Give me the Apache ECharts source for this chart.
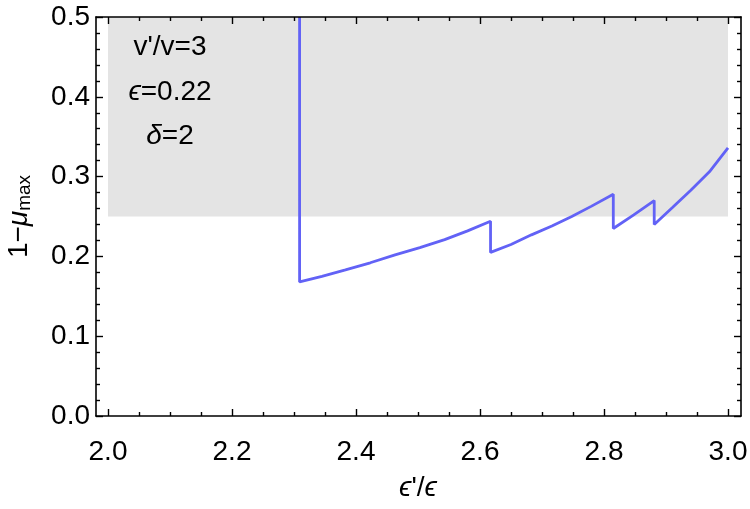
<!DOCTYPE html>
<html>
<head>
	<meta charset="utf-8">
	<title>1-mu max</title>
</head>
<body style="margin:0">
	<div id="box" style="width: 750px;height: 509px"></div>
</body>
<script type="text/javascript" src="https://cdn.jsdelivr.net/npm/echarts@6/dist/echarts.min.js"></script>
<script type="text/javascript">
	// curve (x = eps'/eps, y = 1 - mu_max)
	var curveX = [2.309, 2.309, 2.345, 2.383, 2.423, 2.463, 2.503, 2.543, 2.580, 2.617,
	              2.617, 2.650, 2.683, 2.716, 2.748, 2.780, 2.815,
	              2.815, 2.848, 2.881,
	              2.881, 2.910, 2.940, 2.970, 3.000];
	var curveY = [0.500, 0.168, 0.175, 0.183, 0.192, 0.202, 0.211, 0.221, 0.232, 0.244,
	              0.205, 0.215, 0.227, 0.238, 0.250, 0.263, 0.278,
	              0.235, 0.252, 0.270,
	              0.240, 0.261, 0.283, 0.306, 0.336];
	// gray band: x from/to, y from/to
	var bandX = [2.0, 3.0];
	var bandY = [0.25, 0.5];

	var xLabels = ['2.0', '2.2', '2.4', '2.6', '2.8', '3.0'];
	var yLabels = ['0.0', '0.1', '0.2', '0.3', '0.4', '0.5'];

	var notes = ["v'/v=3", '{i|ϵ}=0.22', '{i|δ}=2'];

	var pts = curveX.map(function (x, i) { return [x, curveY[i]]; });

	var font = '"Liberation Sans", Arial, sans-serif';
	var fs = 28;
	var black = {color: '#000', width: 1.6};
	var tickStyle = {color: '#000', width: 1.4};

	// grid 0: data area 2.0..3.0, carries x ticks
	// grid 1: a bit wider, carries the frame and the y ticks
	function xTickAx(pos, labels) {
		return {
			type: 'value', gridIndex: 0, position: pos, min: 2, max: 3, interval: 0.2, z: 5,
			axisLine: {show: false, onZero: false},
			axisTick: {show: true, inside: true, length: 7, lineStyle: tickStyle},
			minorTick: {show: true, splitNumber: 4, length: 4, lineStyle: tickStyle},
			axisLabel: labels ? {show: true, margin: 22, color: '#000', fontSize: fs, fontFamily: font,
			           formatter: function (v) { return labels[Math.round((v - 2) / 0.2)]; }}
			           : {show: false},
			splitLine: {show: false}
		};
	}
	function xFrameAx(pos) {
		return {
			type: 'value', gridIndex: 1, position: pos, min: 0, max: 1, z: 5,
			axisLine: {show: true, onZero: false, lineStyle: black},
			axisTick: {show: false}, axisLabel: {show: false}, splitLine: {show: false}
		};
	}
	function yAx(grid, pos, labels) {
		return {
			type: 'value', gridIndex: grid, position: pos, min: 0, max: 0.5, interval: 0.1, z: 5,
			axisLine: {show: grid === 1, onZero: false, lineStyle: black},
			axisTick: {show: grid === 1, inside: true, length: 7, lineStyle: tickStyle},
			minorTick: {show: grid === 1, splitNumber: 5, length: 4, lineStyle: tickStyle},
			axisLabel: labels ? {show: true, margin: 6, color: '#000', fontSize: fs, fontFamily: font,
			           formatter: function (v) { return labels[Math.round(v / 0.1)]; }}
			           : {show: false},
			splitLine: {show: false}
		};
	}

	var xAxes = [xTickAx('bottom', xLabels), xTickAx('top'), xFrameAx('bottom'), xFrameAx('top')];
	var yAxes = [yAx(0, 'left'), yAx(1, 'left', yLabels), yAx(1, 'right')];

	xAxes[0].name = '{i|ϵ}\'/{i|ϵ}';
	xAxes[0].nameLocation = 'middle';
	xAxes[0].nameGap = 58;
	xAxes[0].nameTextStyle = {color: '#000', fontSize: fs, fontFamily: font,
		rich: {i: {fontSize: fs, fontStyle: 'italic', fontFamily: font, color: '#000'}}};

	yAxes[1].name = '1−{i|μ}{s|max}';
	yAxes[1].nameLocation = 'middle';
	yAxes[1].nameRotate = 90;
	yAxes[1].nameGap = 62;
	yAxes[1].nameTextStyle = {color: '#000', fontSize: fs, fontFamily: font,
		rich: {
			i: {fontSize: fs, fontStyle: 'italic', fontFamily: font, color: '#000'},
			s: {fontSize: 19, fontFamily: font, color: '#000', verticalAlign: 'bottom', padding: [11, 0, 0, 0]}
		}};

	var dom = document.getElementById('box');
	var myChart = echarts.init(dom);
	myChart.setOption({
		animation: false,
		backgroundColor: '#fff',
		grid: [
			{left: 108, right: 22, top: 17, bottom: 93, containLabel: false, outerBoundsMode: 'none'},
			{left: 96, right: 9, top: 17, bottom: 93, containLabel: false, outerBoundsMode: 'none'}
		],
		xAxis: xAxes,
		yAxis: yAxes,
		series: [
			{
				// shaded region
				type: 'line', data: [], silent: true, z: 1, xAxisIndex: 0, yAxisIndex: 0,
				markArea: {
					silent: true,
					itemStyle: {color: '#e4e4e4'},
					data: [[{coord: [bandX[0], bandY[0]]}, {coord: [bandX[1], bandY[1]]}]]
				}
			},
			{
				type: 'line', data: pts, z: 3, showSymbol: false, clip: true,
				xAxisIndex: 0, yAxisIndex: 0,
				lineStyle: {color: '#6262f6', width: 2.8},
				itemStyle: {color: '#6262f6'}
			}
		],
		graphic: notes.map(function (t, i) {
			return {
				type: 'text', x: 170, y: [47, 92, 136][i], z: 10,
				style: {
					text: t, fill: '#000', fontSize: fs, fontFamily: font,
					align: 'center', verticalAlign: 'middle',
					rich: {i: {fontSize: fs, fontStyle: 'italic', fontFamily: font, fill: '#000'}}
				}
			};
		})
	});
</script>
</html>
